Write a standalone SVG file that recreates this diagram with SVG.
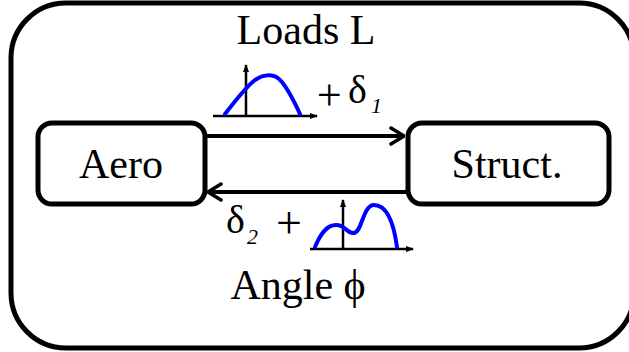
<svg xmlns="http://www.w3.org/2000/svg" width="629" height="352" viewBox="0 0 629 352">
<style>
.box{fill:#fff;stroke:#000;stroke-width:5}
.t{font-family:"Liberation Serif","DejaVu Serif",serif;fill:#000}
.ax{stroke:#000;stroke-width:2.5;fill:none}
.cv{stroke:#0000ff;stroke-width:4;fill:none;stroke-linecap:round}
.conn{stroke:#000;stroke-width:4;fill:none}
</style>
<defs>
<marker id="open" viewBox="0 0 16 20" refX="15" refY="10" markerWidth="16" markerHeight="20" markerUnits="userSpaceOnUse" orient="auto">
<path d="M2,2 L15,10 L2,18" fill="none" stroke="#000" stroke-width="3.5" stroke-linecap="round" stroke-linejoin="round"/>
</marker>
<marker id="tiny" viewBox="0 0 8 8" refX="7" refY="4" markerWidth="8" markerHeight="8" markerUnits="userSpaceOnUse" orient="auto">
<path d="M0,1 L8,4 L0,7 Z" fill="#000"/>
</marker>
</defs>
<rect x="11" y="3" width="623" height="345" rx="55" class="box" style="stroke-width:5"/>
<g id="aero">
<rect x="38" y="123" width="167" height="81" rx="14" class="box"/>
<text x="121" y="178" class="t" font-size="42" text-anchor="middle">Aero</text>
</g>
<g id="struct">
<rect x="408" y="123" width="201" height="81" rx="14" class="box"/>
<text x="507" y="178" class="t" font-size="42" text-anchor="middle">Struct.</text>
</g>
<g id="connectors">
<line x1="205" y1="136" x2="404" y2="136" class="conn" marker-end="url(#open)"/>
<line x1="408" y1="192" x2="208" y2="192" class="conn" marker-end="url(#open)"/>
</g>
<g id="loads-label">
<text x="306" y="44" class="t" font-size="42" text-anchor="middle">Loads L</text>
<line x1="213" y1="116" x2="317" y2="116" class="ax" marker-end="url(#tiny)"/>
<line x1="246" y1="116" x2="246" y2="65" class="ax" marker-end="url(#tiny)"/>
<path d="M225,114 C235,101 247,86 255,80 C262,75 272,73 279,79 C287,86 294,101 300,114" class="cv"/>
<text x="314" y="110" class="t" font-size="44" font-style="italic">+</text>
<text x="348" y="103" class="t" font-size="40">δ</text>
<text x="371" y="113" class="t" font-size="22" font-style="italic">1</text>
</g>
<g id="angle-label">
<text x="298" y="299" class="t" font-size="42" text-anchor="middle">Angle ϕ</text>
<line x1="310" y1="249" x2="413" y2="249" class="ax" marker-end="url(#tiny)"/>
<line x1="343" y1="249" x2="343" y2="200" class="ax" marker-end="url(#tiny)"/>
<path d="M315,247 C320,235 326,225 336,225 C346,225 347,234 354,233 C362,232 363,205 374,205 C388,205 394,225 397,247" class="cv"/>
<text x="226" y="233" class="t" font-size="40">δ</text>
<text x="247" y="244" class="t" font-size="22" font-style="italic">2</text>
<text x="276" y="238" class="t" font-size="46">+</text>
</g>
</svg>
